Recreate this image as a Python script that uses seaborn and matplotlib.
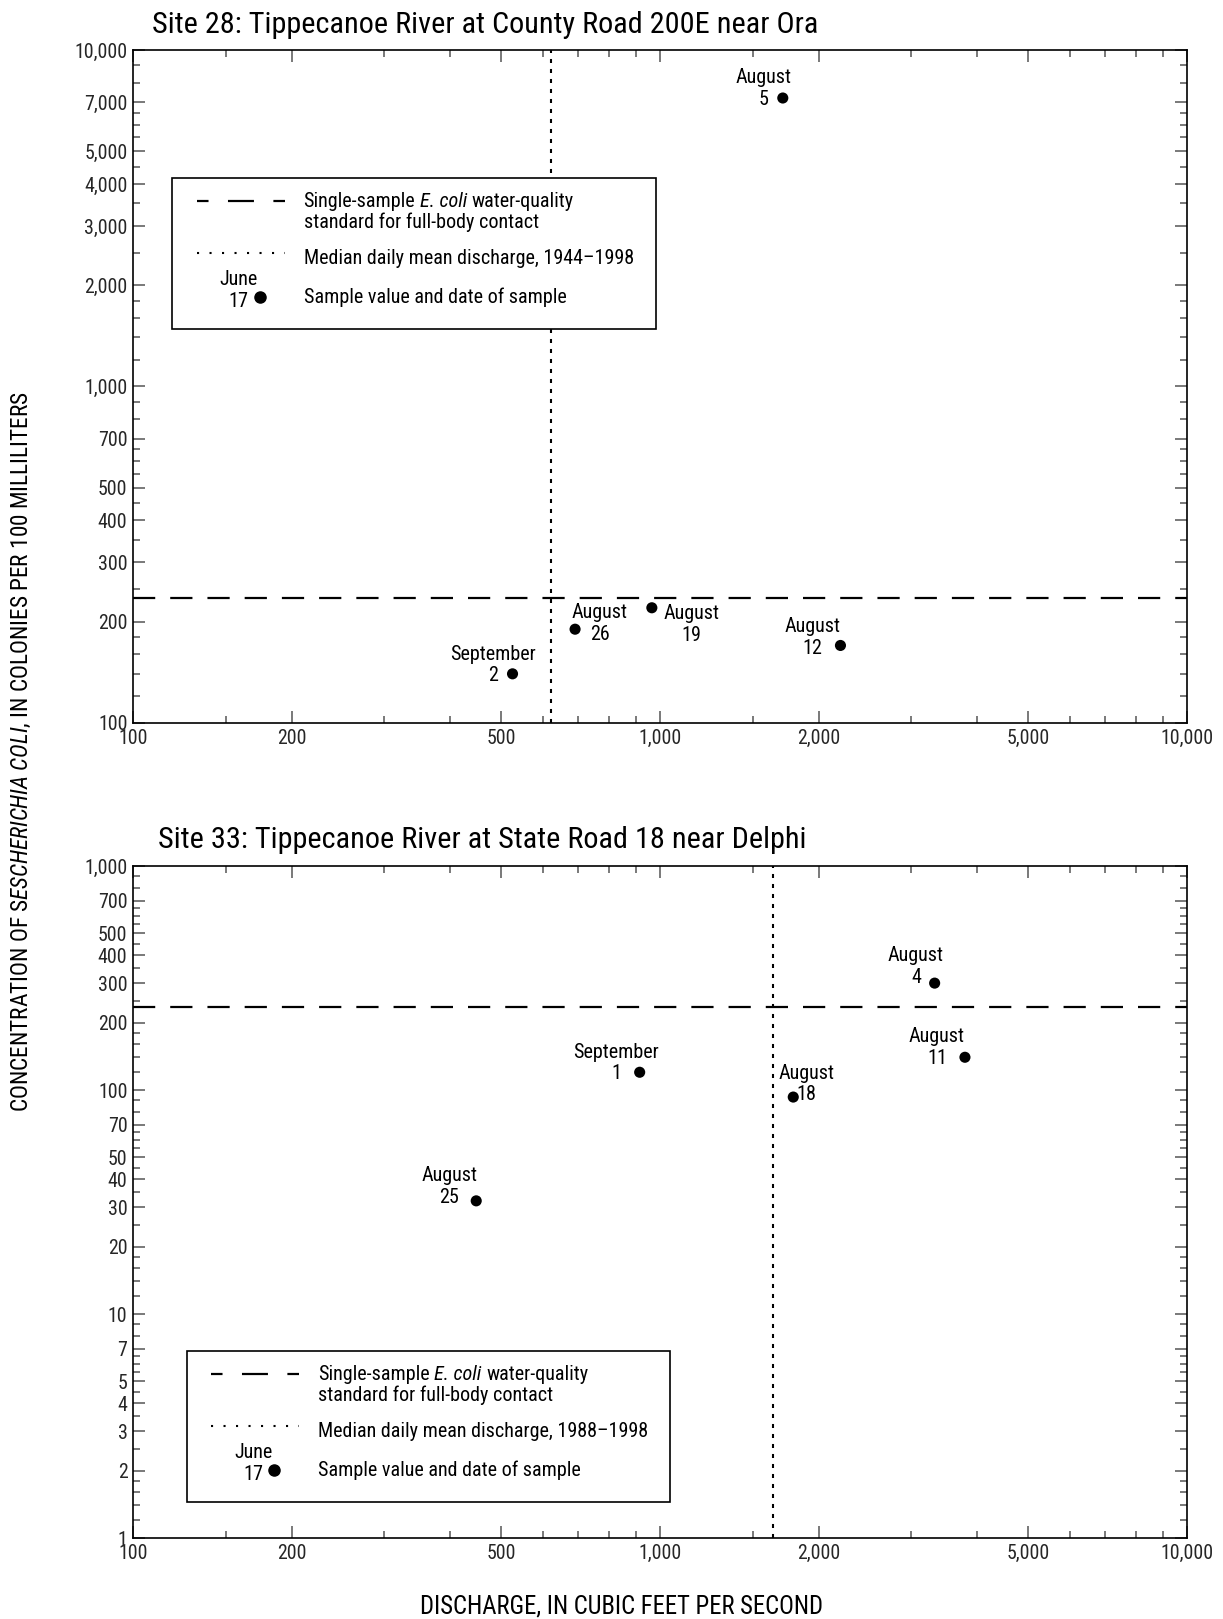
import matplotlib
matplotlib.use("Agg")
import matplotlib.pyplot as plt
import pandas as pd
import seaborn as sns
from matplotlib import font_manager
from matplotlib.lines import Line2D
from matplotlib.patches import Rectangle
from matplotlib.ticker import NullFormatter

# ---------------- data ----------------
ecoli_standard = 235  # single-sample standard, colonies per 100 mL

site28_title = "Site 28: Tippecanoe River at County Road 200E near Ora"
site28_discharge = [1710, 690, 965, 2200, 525]
site28_ecoli = [7200, 190, 220, 170, 140]
site28_month = ["August", "August", "August", "August", "September"]
site28_day = [5, 26, 19, 12, 2]
site28_median_q = 620
site28_period = "1944–1998"

site33_title = "Site 33: Tippecanoe River at State Road 18 near Delphi"
site33_discharge = [3320, 3790, 1790, 915, 448]
site33_ecoli = [300, 140, 93, 120, 32]
site33_month = ["August", "August", "August", "September", "August"]
site33_day = [4, 11, 18, 1, 25]
site33_median_q = 1640
site33_period = "1988–1998"

x_major = [100, 200, 500, 1000, 2000, 5000, 10000]
x_minor = [150, 300, 400, 600, 700, 800, 900,
           1500, 3000, 4000, 6000, 7000, 8000, 9000]
y_major_28 = [100, 200, 300, 400, 500, 700,
              1000, 2000, 3000, 4000, 5000, 7000, 10000]
y_major_33 = [1, 2, 3, 4, 5, 7, 10, 20, 30, 40, 50, 70,
              100, 200, 300, 400, 500, 700, 1000]
minor_mantissa = [1.2, 1.4, 1.6, 1.8, 2.5, 3.5, 4.5, 5.5, 6, 6.5, 8, 9]

# label placement: offset points from each sample to the day line's baseline
site28_label_offsets = [(-14.1, -5.2), (17.8, -7.5), (28.3, -23.8),
                        (-20.1, -5.9), (-14.1, -5.5)]
site33_label_offsets = [(-13.4, 0.0), (-20.1, -4.8), (9.7, -2.3),
                        (-17.1, -5.2), (-19.3, -1.5)]

# ---------------- style ----------------
sns.set_style("ticks")


def pick_font():
    entries = font_manager.fontManager.ttflist
    names = {f.name for f in entries}
    for cand, k in [("Liberation Sans Narrow", 1.0), ("Arial Narrow", 1.0),
                    ("Roboto Condensed", 0.955), ("Open Sans Condensed", 0.9),
                    ("Noto Sans Condensed", 0.92), ("DejaVu Sans Condensed", 0.85)]:
        if cand in names:
            return cand, "normal", k
    for f in entries:
        if (f.stretch in ("condensed", "semi-condensed") and f.style == "normal"
                and "Mono" not in f.name and "Serif" not in f.name
                and "CJK" not in f.name):
            return f.name, f.stretch, 0.95
    return "Liberation Sans", "normal", 0.84


FONT, STRETCH, K = pick_font()
plt.rcParams["font.family"] = [FONT, "DejaVu Sans"]
plt.rcParams["font.stretch"] = STRETCH
plt.rcParams["mathtext.fontset"] = "custom"
plt.rcParams["mathtext.rm"] = FONT
plt.rcParams["mathtext.it"] = FONT + ":italic"
plt.rcParams["lines.scale_dashes"] = False
plt.rcParams["text.color"] = "black"

LABEL_PT = 15.2 * K
TICK_PT = 15.0 * K
TITLE_PT = 23.0 * K * 0.99
YLABEL_PT = 17.5 * K
XLABEL_PT = 18.6 * K
# baseline-to-baseline distance of about 21 px for the two-line labels
LINESP = 21.4 / (0.898 * LABEL_PT * 100 / 72)

W, H = 1223, 1619
fig = plt.figure(figsize=(W / 100, H / 100), dpi=100)
fig.patch.set_facecolor("white")
renderer = fig.canvas.get_renderer()


def fx(x):
    return x / W


def fy(y):
    return 1 - y / H


def rect(l, t, r, b):
    return [l / W, 1 - b / H, (r - l) / W, (b - t) / H]


ax28 = fig.add_axes(rect(133, 50, 1187, 723))
ax33 = fig.add_axes(rect(133, 866, 1187, 1538))


def log_minor(lo, hi):
    out = []
    d = lo
    while d < hi:
        out += [m * d for m in minor_mantissa]
        d *= 10
    return out


def draw_panel(ax, q, c, months, days, median_q, offsets, ylim, y_major):
    df = pd.DataFrame({"discharge": q, "ecoli": c, "month": months, "day": days})
    ax.set_xscale("log")
    ax.set_yscale("log")
    ax.set_facecolor("white")
    ax.axhline(ecoli_standard, color="black", lw=1.6, dashes=(16, 10.8), zorder=2)
    ax.axvline(median_q, color="black", lw=1.5, dashes=(2.9, 4.3), zorder=2)
    sns.scatterplot(data=df, x="discharge", y="ecoli", color="black", s=64,
                    edgecolor="none", ax=ax, zorder=3, legend=False)
    for row, (dx, dy) in zip(df.itertuples(), offsets):
        ax.annotate(f"{row.month}\n{row.day}", (row.discharge, row.ecoli),
                    xytext=(dx, dy), textcoords="offset points",
                    ha="center", va="baseline", multialignment="center",
                    fontsize=LABEL_PT, linespacing=LINESP, zorder=4)
    ax.set_xlim(100, 10000)
    ax.set_ylim(*ylim)
    ax.set_xticks(x_major, [f"{v:,}" for v in x_major])
    ax.set_xticks(x_minor, minor=True)
    ax.set_yticks(y_major, [f"{v:,}" for v in y_major])
    ax.set_yticks([v for v in log_minor(*ylim) if v not in y_major], minor=True)
    ax.xaxis.set_minor_formatter(NullFormatter())
    ax.yaxis.set_minor_formatter(NullFormatter())
    ax.tick_params(which="both", direction="in", top=True, right=True,
                   color="#555555", width=1.1)
    ax.tick_params(which="major", length=8.5, labelsize=TICK_PT, pad=4)
    ax.tick_params(which="minor", length=5)
    ax.set_xlabel("")
    ax.set_ylabel("")
    for s in ax.spines.values():
        s.set_visible(True)
        s.set_color("black")
        s.set_linewidth(1.2)


draw_panel(ax28, site28_discharge, site28_ecoli, site28_month, site28_day,
           site28_median_q, site28_label_offsets, (100, 10000), y_major_28)
draw_panel(ax33, site33_discharge, site33_ecoli, site33_month, site33_day,
           site33_median_q, site33_label_offsets, (1, 1000), y_major_33)


def text_width(s, **kw):
    t = fig.text(0, 0, s, **kw)
    w = t.get_window_extent(renderer).width
    t.remove()
    return w


def run_of_text(x_px, y_px, parts, **kw):
    """Write consecutive pieces of text (upright or italic) on one baseline."""
    space = text_width("n n", **kw) - text_width("nn", **kw)
    x = x_px
    for s, style in parts:
        t = fig.text(fx(x), fy(y_px), s, style=style, **kw)
        x += t.get_window_extent(renderer).width + space


def draw_key(left, top, period):
    z = 10
    fig.add_artist(Rectangle((fx(left), fy(top + 151.5)), 483.5 / W, 151.5 / H,
                             transform=fig.transFigure, facecolor="white",
                             edgecolor="black", lw=1.2, zorder=z))
    fig.add_artist(Line2D([fx(left + 24.5), fx(left + 112.5)], [fy(top + 23)] * 2,
                          transform=fig.transFigure, color="black", lw=1.6,
                          linestyle=(10.4, (18.7, 14)), zorder=z + 1))
    fig.add_artist(Line2D([fx(left + 24.5), fx(left + 112.5)], [fy(top + 75.5)] * 2,
                          transform=fig.transFigure, color="black", lw=1.5,
                          linestyle=(0, (1.5, 7.5)), zorder=z + 1))
    fig.add_artist(Line2D([fx(left + 87.6)], [fy(top + 119)], marker="o", ms=8,
                          color="black", lw=0, transform=fig.transFigure,
                          zorder=z + 1))
    tx = left + 131.5
    kw = dict(fontsize=LABEL_PT, ha="left", va="baseline", zorder=z + 1)
    run_of_text(tx, top + 29.6, [("Single-sample", "normal"),
                                 ("E. coli", "italic"),
                                 ("water-quality", "normal")], **kw)
    fig.text(fx(tx), fy(top + 50.2), "standard for full-body contact", **kw)
    fig.text(fx(tx), fy(top + 86), f"Median daily mean discharge, {period}", **kw)
    fig.text(fx(tx), fy(top + 125), "Sample value and date of sample", **kw)
    fig.text(fx(left + 66.5), fy(top + 129.5), "June\n17", fontsize=LABEL_PT,
             ha="center", va="baseline", multialignment="center",
             linespacing=LINESP, zorder=z + 1)


draw_key(172, 177.7, site28_period)
draw_key(186.6, 1350.7, site33_period)

# panel titles
fig.text(fx(151.5), fy(33.3), site28_title, fontsize=TITLE_PT, ha="left", va="baseline")
fig.text(fx(157.5), fy(848), site33_title, fontsize=TITLE_PT, ha="left", va="baseline")

# shared axis titles
fig.text(fx(21), fy(752),
         r"CONCENTRATION OF S$\mathit{ESCHERICHIA}$ $\mathit{COLI}$, IN COLONIES PER 100 MILLILITERS",
         rotation=90, ha="center", va="center", fontsize=YLABEL_PT)
fig.text(fx(621), fy(1613), "DISCHARGE, IN CUBIC FEET PER SECOND",
         ha="center", va="baseline", fontsize=XLABEL_PT)

fig.savefig("out.png", dpi=100)
